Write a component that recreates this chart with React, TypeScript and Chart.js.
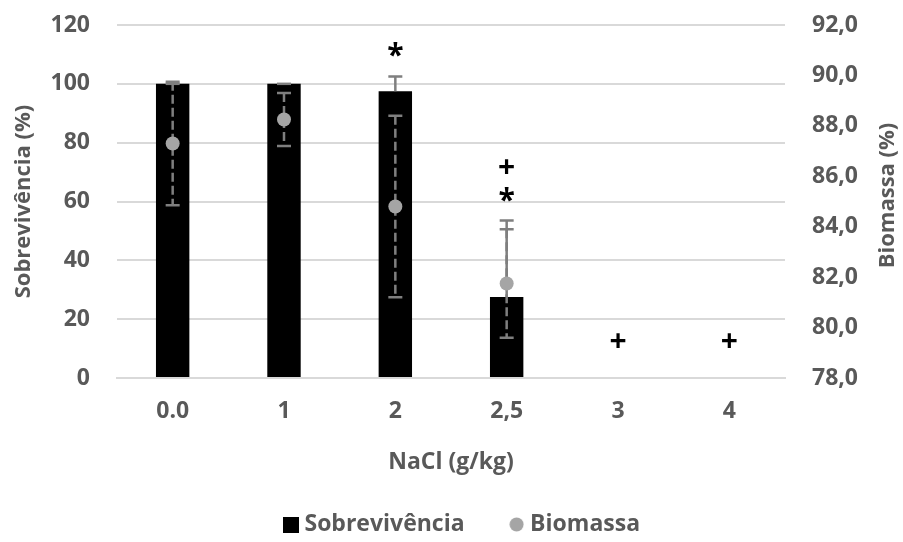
import React, { useEffect, useRef } from "react";
import { Chart, registerables } from "chart.js";

Chart.register(...registerables);

const categories = ["0.0", "1", "2", "2,5", "3", "4"];
const survival = [100, 100, 97.5, 27.5, 0, 0];
const survivalErrPlus = [0, 0, 5, 26, null, null];
const biomass = [87.3, 88.25, 84.8, 81.75, null, null];
const biomassErr = [2.45, 1.05, 3.6, 2.15, null, null];
const leftTicks = { min: 0, max: 120, step: 20 };
const rightTicks = { min: 78, max: 92, step: 2 };
const markCategory = [2, 3, 3, 4, 5];
const markValue = [111.7, 72, 62.5, 12.7, 12.7];
const markSymbol = ["*", "+", "*", "+", "+"];
const rightTitle = "Biomassa (%)";

const FONT = "'Open Sans', Lato, sans-serif";
const GREY_TEXT = "#595959";
const ERR_COLOR = "#7f7f7f";
const MARKER = "#a5a5a5";

const errorPlugin = {
  id: "errorBars",
  afterDatasetDraw(chart: any, args: any) {
    if (args.index !== 0) return;
    const ctx = chart.ctx;
    const x = chart.scales.x;
    const y = chart.scales.y;
    const y1 = chart.scales.y1;
    ctx.save();
    ctx.strokeStyle = ERR_COLOR;
    ctx.lineWidth = 2.5;
    const cap = 7;
    survival.forEach((v, i) => {
      const e = survivalErrPlus[i];
      if (e == null || v == null) return;
      const px = x.getPixelForValue(i);
      const top = y.getPixelForValue(v + e);
      const base = y.getPixelForValue(v);
      ctx.setLineDash([]);
      ctx.beginPath();
      ctx.moveTo(px, base);
      ctx.lineTo(px, top);
      ctx.moveTo(px - cap, top);
      ctx.lineTo(px + cap, top);
      ctx.stroke();
    });
    biomass.forEach((v, i) => {
      const e = biomassErr[i];
      if (e == null || v == null) return;
      const px = x.getPixelForValue(i);
      const top = y1.getPixelForValue(v + e);
      const bot = y1.getPixelForValue(v - e);
      ctx.setLineDash([9, 4]);
      ctx.beginPath();
      ctx.moveTo(px, top);
      ctx.lineTo(px, bot);
      ctx.stroke();
      ctx.setLineDash([]);
      ctx.beginPath();
      ctx.moveTo(px - cap, top);
      ctx.lineTo(px + cap, top);
      ctx.moveTo(px - cap, bot);
      ctx.lineTo(px + cap, bot);
      ctx.stroke();
    });
    ctx.restore();
  },
  afterDatasetsDraw(chart: any) {
    const ctx = chart.ctx;
    const x = chart.scales.x;
    const y = chart.scales.y;
    ctx.save();
    ctx.fillStyle = "#000";
    ctx.font = `bold 30px ${FONT}`;
    ctx.textAlign = "center";
    ctx.textBaseline = "alphabetic";
    markSymbol.forEach((s, i) => {
      const m = ctx.measureText(s);
      const asc = m.actualBoundingBoxAscent;
      const desc = m.actualBoundingBoxDescent;
      const cy = y.getPixelForValue(markValue[i]);
      ctx.fillText(s, x.getPixelForValue(markCategory[i]), cy + (asc - desc) / 2);
    });
    // right axis title, reading bottom to top
    const area = chart.chartArea;
    ctx.fillStyle = GREY_TEXT;
    ctx.font = `bold 22px ${FONT}`;
    ctx.textAlign = "center";
    ctx.textBaseline = "middle";
    ctx.translate(chart.width - 15, (area.top + area.bottom) / 2 - 6);
    ctx.rotate(-Math.PI / 2);
    ctx.fillText(rightTitle, 0, 0);
    ctx.restore();
  },
};

function makeSquare() {
  const c = document.createElement("canvas");
  c.width = 16;
  c.height = 16;
  const g = c.getContext("2d")!;
  g.fillStyle = "#000";
  g.fillRect(0, 0, 16, 16);
  return c;
}
function makeCircle() {
  const c = document.createElement("canvas");
  c.width = 15;
  c.height = 15;
  const g = c.getContext("2d")!;
  g.fillStyle = MARKER;
  g.beginPath();
  g.arc(7.5, 7.5, 7, 0, Math.PI * 2);
  g.fill();
  return c;
}

const noVertPad = (s: any, w: number) => {
  s.width = w;
  s.paddingTop = 0;
  s.paddingBottom = 0;
};

export default function App() {
  const ref = useRef<HTMLCanvasElement>(null);
  useEffect(() => {
    if (!ref.current) return;
    const sq = makeSquare();
    const circ = makeCircle();
    const chart = new Chart(ref.current, {
      type: "bar",
      data: {
        labels: categories,
        datasets: [
          {
            type: "bar",
            label: "Sobrevivência",
            data: survival,
            backgroundColor: "#000000",
            yAxisID: "y",
            barPercentage: 0.3,
            categoryPercentage: 1,
            order: 1,
          } as any,
          {
            type: "line",
            label: "Biomassa",
            data: biomass,
            yAxisID: "y1",
            showLine: false,
            pointRadius: 7,
            pointHoverRadius: 7,
            pointBackgroundColor: MARKER,
            pointBorderColor: MARKER,
            pointBorderWidth: 0,
            backgroundColor: MARKER,
            borderColor: MARKER,
            order: 0,
          } as any,
        ],
      },
      options: {
        animation: false,
        responsive: true,
        maintainAspectRatio: false,
        layout: { padding: { top: 25, left: 26, right: 0, bottom: -4 } },
        plugins: {
          tooltip: { enabled: false },
          legend: {
            position: "bottom",
            labels: {
              usePointStyle: true,
              boxWidth: 4,
              boxHeight: 23,
              padding: 50,
              color: GREY_TEXT,
              font: { family: FONT, size: 23, weight: "bold" },
              generateLabels: (ch: any) => [
                {
                  text: ch.data.datasets[0].label,
                  pointStyle: sq,
                  fillStyle: "#000",
                  strokeStyle: "#000",
                  lineWidth: 0,
                  hidden: false,
                  datasetIndex: 0,
                  fontColor: GREY_TEXT,
                },
                {
                  text: ch.data.datasets[1].label,
                  pointStyle: circ,
                  fillStyle: MARKER,
                  strokeStyle: MARKER,
                  lineWidth: 0,
                  hidden: false,
                  datasetIndex: 1,
                  fontColor: GREY_TEXT,
                },
              ],
            },
          },
        },
        scales: {
          x: {
            grid: { display: false, drawTicks: false },
            border: { display: true, color: "#d9d9d9", width: 2 },
            ticks: {
              color: GREY_TEXT,
              padding: 20,
              font: { family: FONT, size: 23, weight: "bold" },
            },
            title: {
              display: true,
              text: "NaCl (g/kg)",
              color: GREY_TEXT,
              font: { family: FONT, size: 23, weight: "bold" },
              padding: { top: 0, bottom: -13 },
            },
            afterFit: (s: any) => {
              s.height = 85;
            },
          },
          y: {
            position: "left",
            min: leftTicks.min,
            max: leftTicks.max,
            ticks: {
              stepSize: leftTicks.step,
              color: GREY_TEXT,
              padding: 27,
              font: { family: FONT, size: 23, weight: "bold" },
            },
            grid: { color: "#d9d9d9", lineWidth: 2, drawTicks: false },
            border: { display: false },
            title: {
              display: true,
              text: "Sobrevivência (%)",
              color: GREY_TEXT,
              font: { family: FONT, size: 22, weight: "bold" },
              padding: { top: -15, bottom: 0 },
            },
            afterFit: (s: any) => noVertPad(s, 91),
          },
          y1: {
            position: "right",
            min: rightTicks.min,
            max: rightTicks.max,
            ticks: {
              stepSize: rightTicks.step,
              color: GREY_TEXT,
              padding: 27,
              font: { family: FONT, size: 23, weight: "bold" },
              callback: (v: any) => Number(v).toFixed(1).replace(".", ","),
            },
            grid: { display: false, drawTicks: false },
            border: { display: false },
            title: { display: false },
            afterFit: (s: any) => noVertPad(s, 118),
          },
        },
      },
      plugins: [errorPlugin],
    });
    return () => chart.destroy();
  }, []);
  return (
    <div style={{ position: "absolute", left: 0, top: 0, width: 903, height: 542 }}>
      <canvas ref={ref} />
    </div>
  );
}
